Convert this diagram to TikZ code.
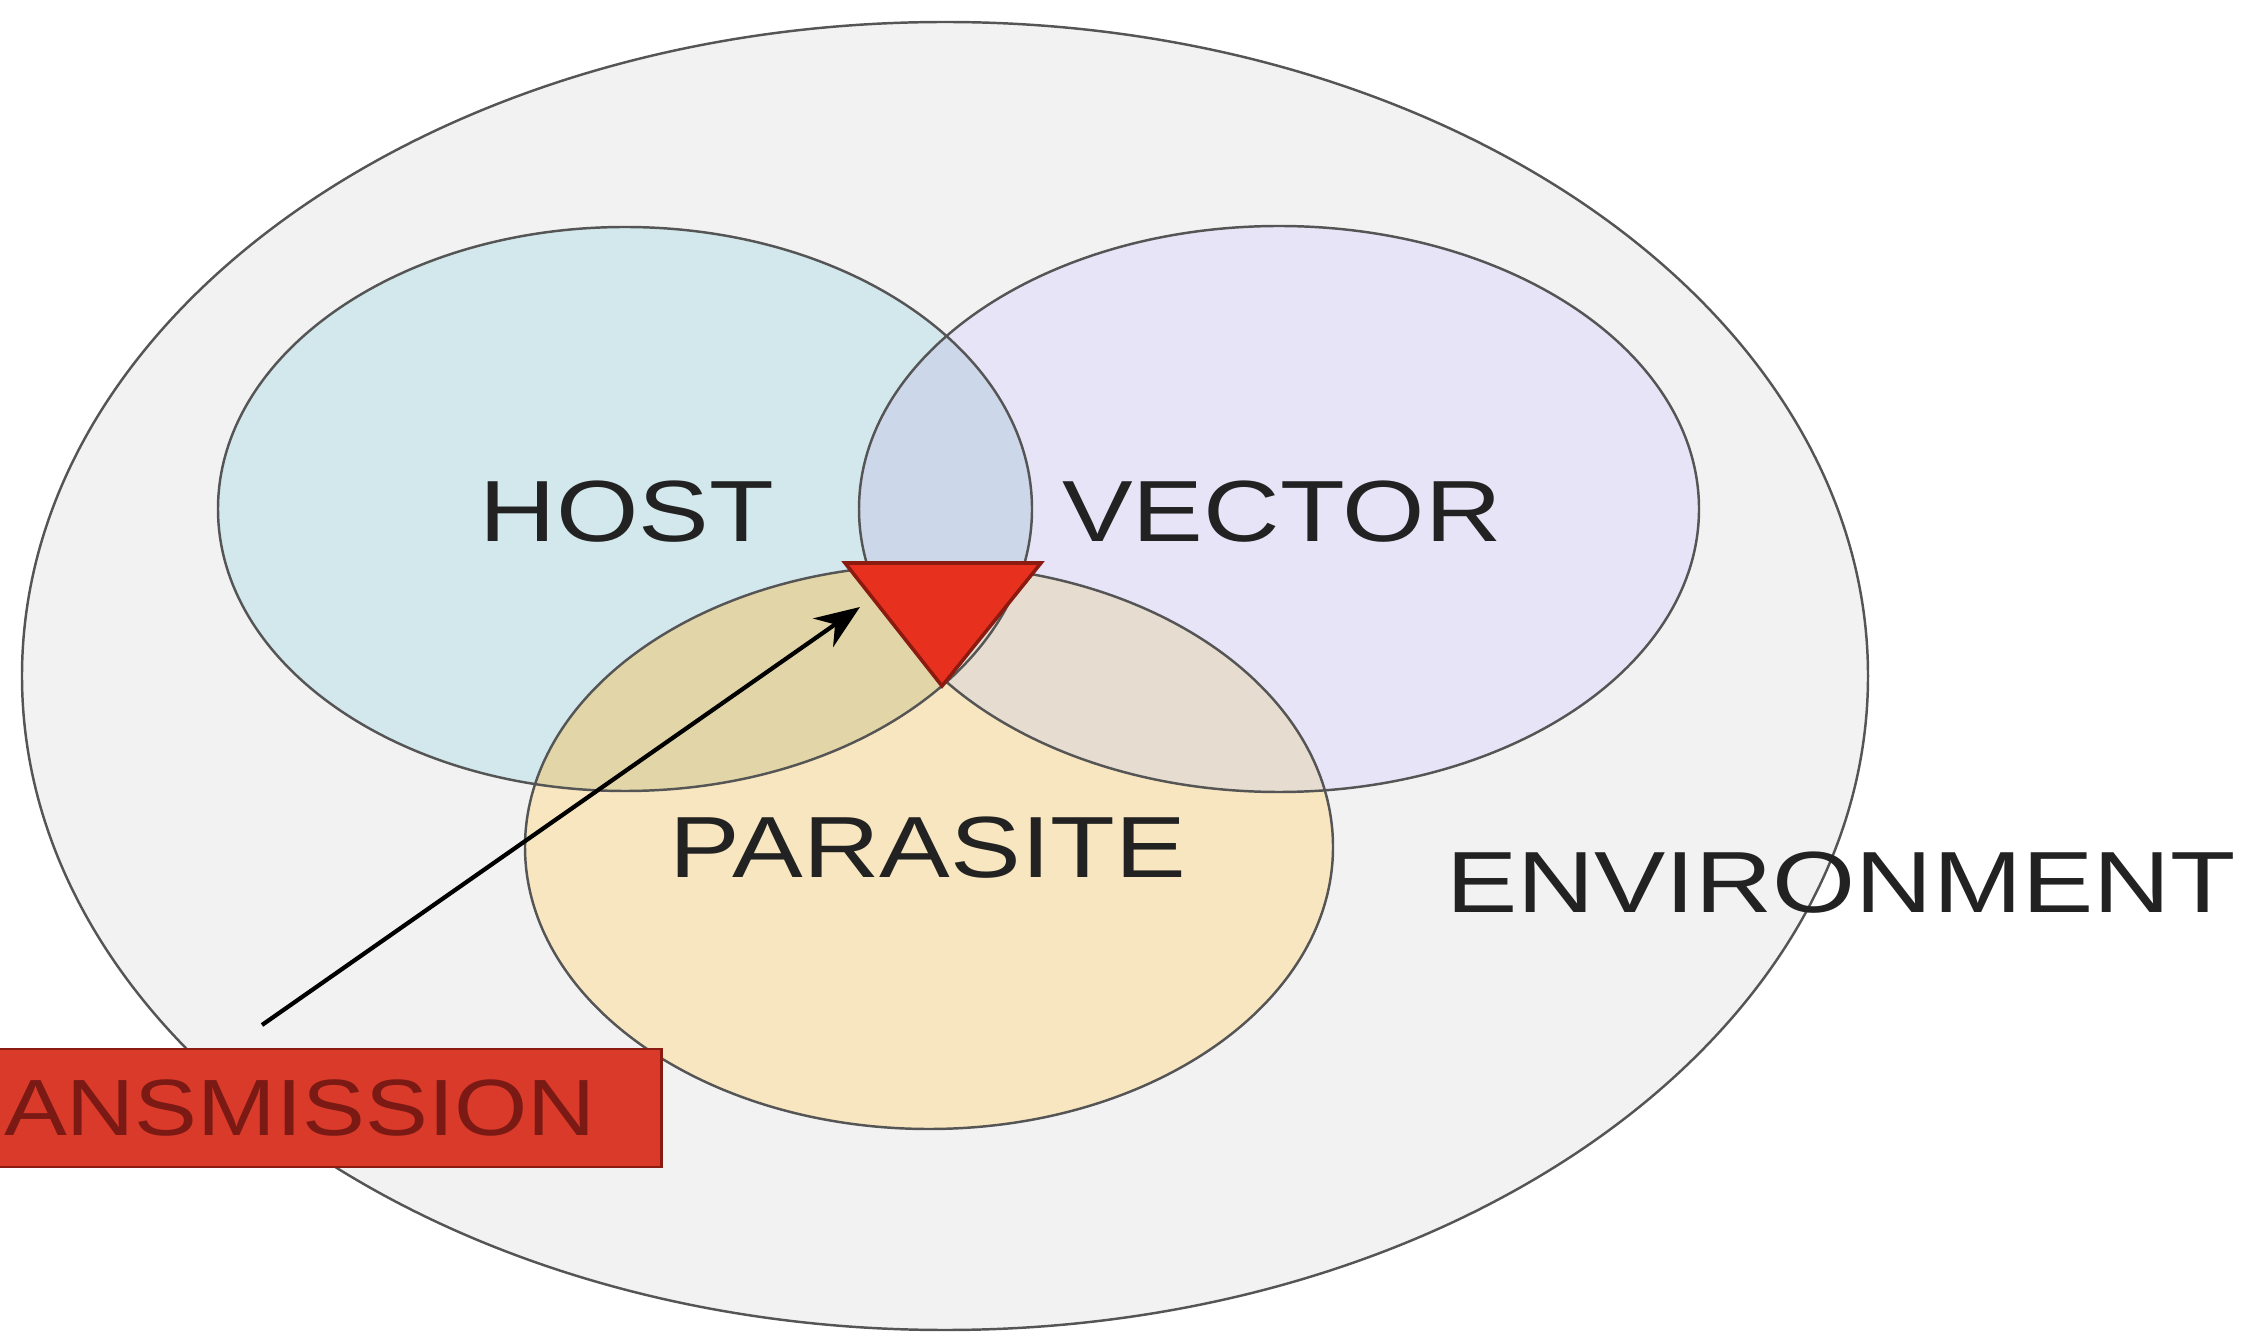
\documentclass[tikz,border=0pt]{standalone}
\usepackage{fontspec}
\usepackage{graphicx}
\setmainfont{Liberation Sans}
\usetikzlibrary{arrows.meta}
\definecolor{envfill}{HTML}{F2F2F2}
\definecolor{hostfill}{HTML}{D2E8EC}
\definecolor{vecfill}{HTML}{E6E4F6}
\definecolor{parfill}{HTML}{F7E6C0}
\definecolor{hvfill}{HTML}{CDD7EA}
\definecolor{hpfill}{HTML}{E2D6A8}
\definecolor{vpfill}{HTML}{E6DCCF}
\definecolor{outline}{HTML}{555555}
\definecolor{trired}{HTML}{E8301E}
\definecolor{boxred}{HTML}{D93A2A}
\definecolor{boxedge}{HTML}{8B1A10}
\definecolor{txtred}{HTML}{7B1A14}
\definecolor{txt}{HTML}{222222}
\tikzset{
  ring/.style={draw=outline, line width=0.7pt},
  label/.style={text=txt, inner sep=0pt, font=\fontsize{24.7}{30}\selectfont},
  tbox/.style={fill=boxred, draw=boxedge, line width=0.8pt, text=txtred,
    font=\fontsize{22.7}{28}\selectfont, inner xsep=0pt, inner ysep=0pt,
    minimum height=1.18cm, anchor=east},
  conn/.style={draw=black, line width=1.2pt, -{Stealth[length=4.5mm, width=3.5mm]}}
}
\newcommand{\wide}[2]{\scalebox{#1}[1]{#2}}
\begin{document}
\begin{tikzpicture}[x=0.01cm, y=-0.01cm]
\useasboundingbox (0,0) rectangle (2254,1340);
\clip (0,0) rectangle (2254,1340);
% environment
\path[fill=envfill] (945,676) ellipse [x radius=923, y radius=654];
\draw[ring] (945,676) ellipse [x radius=923, y radius=654];
% circles fills
\path[fill=hostfill] (625,509) ellipse [x radius=407, y radius=282];
\path[fill=vecfill] (1279,509) ellipse [x radius=420, y radius=283];
\path[fill=parfill] (929,847) ellipse [x radius=404, y radius=282];
% overlaps
\begin{scope}
  \clip (625,509) ellipse [x radius=407, y radius=282];
  \path[fill=hvfill] (1279,509) ellipse [x radius=420, y radius=283];
  \path[fill=hpfill] (929,847) ellipse [x radius=404, y radius=282];
\end{scope}
\begin{scope}
  \clip (1279,509) ellipse [x radius=420, y radius=283];
  \path[fill=vpfill] (929,847) ellipse [x radius=404, y radius=282];
\end{scope}
% outlines
\draw[ring] (625,509) ellipse [x radius=407, y radius=282];
\draw[ring] (1279,509) ellipse [x radius=420, y radius=283];
\draw[ring] (929,847) ellipse [x radius=404, y radius=282];
% centre triangle
\coordinate (tl) at (845,563);
\coordinate (tr) at (1041,563);
\coordinate (tb) at (942,686);
\draw[fill=trired, draw=boxedge, line width=1pt, line join=miter] (tl) -- (tr) -- (tb) -- cycle;
% labels
\node[label] (host) at (627,512) {\wide{1.22}{HOST}};
\node[label] (vector) at (1282,512) {\wide{1.22}{VECTOR}};
\node[label] (parasite) at (928,848) {\wide{1.22}{PARASITE}};
\node[label] (env) at (1841,883) {\wide{1.23}{ENVIRONMENT}};
% transmission box
\node[tbox] (trans) at (663,1108) {\wide{1.18}{TRANSMISSION}\rule{0.66cm}{0pt}};
% arrow
\coordinate (astart) at (262,1025);
\coordinate (aend) at (860,607);
\draw[conn] (astart) -- (aend);
\end{tikzpicture}
\end{document}
